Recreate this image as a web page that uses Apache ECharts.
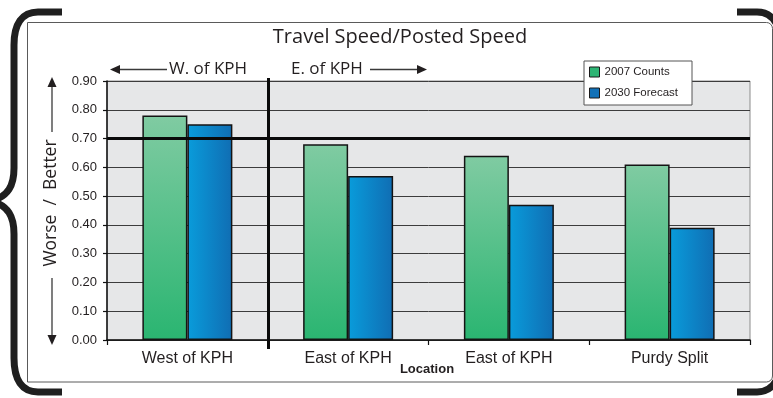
<!DOCTYPE html>
<html>
<head>
<meta charset="utf-8">
<script src="https://cdn.jsdelivr.net/npm/echarts@6/dist/echarts.min.js"></script>
<style>
  html, body { margin: 0; padding: 0; background: #ffffff; }
  #chart { width: 773px; height: 398px; }
</style>
</head>
<body>
<div id="chart"></div>
<script>
// Travel speed divided by posted speed, per location
const locations = ['West of KPH', 'East of KPH', 'East of KPH', 'Purdy Split'];
const counts2007 = [0.78, 0.68, 0.64, 0.61];
const forecast2030 = [0.75, 0.57, 0.47, 0.39];
const yTicks = [0, 0.1, 0.2, 0.3, 0.4, 0.5, 0.6, 0.7, 0.8, 0.9];
const thresholdValue = 0.70;
const seriesNames = ['2007 Counts', '2030 Forecast'];

const INK = '#231f20';
const HUMANIST = '"Open Sans", "Noto Sans", sans-serif';
const ARIAL = '"Liberation Sans", Arial, sans-serif';

const greenFill = {
  type: 'linear', x: 0, y: 0, x2: 0, y2: 1,
  colorStops: [{ offset: 0, color: '#80cba2' }, { offset: 1, color: '#2ab571' }]
};
const blueFill = {
  type: 'linear', x: 0, y: 0, x2: 1, y2: 0,
  colorStops: [{ offset: 0, color: '#099cdb' }, { offset: 1, color: '#106db3' }]
};

const chart = echarts.init(document.getElementById('chart'), null, { renderer: 'canvas' });

// Arrow helper: a thin shaft plus a filled triangular head
function arrow(x1, y1, x2, y2) {
  const dx = x2 - x1, dy = y2 - y1;
  const len = Math.sqrt(dx * dx + dy * dy);
  const ux = dx / len, uy = dy / len;
  const headL = 10, headW = 4.5;
  const bx = x2 - ux * headL, by = y2 - uy * headL;
  return [
    { type: 'line', shape: { x1: x1, y1: y1, x2: bx, y2: by },
      style: { stroke: '#3a3a3a', lineWidth: 1.3 }, z: 20 },
    { type: 'polygon',
      shape: { points: [[x2, y2], [bx - uy * headW, by + ux * headW], [bx + uy * headW, by - ux * headW]] },
      style: { fill: INK }, z: 20 }
  ];
}

// Thick bracket strokes built from straight and curved pieces
const BRACE = { fill: 'none', stroke: '#1f1f1f', lineWidth: 7, lineCap: 'butt' };
function seg(x1, y1, x2, y2) {
  return { type: 'line', shape: { x1, y1, x2, y2 }, style: BRACE, z: 2 };
}
function curve(x1, y1, cpx1, cpy1, cpx2, cpy2, x2, y2) {
  return { type: 'bezierCurve', shape: { x1, y1, cpx1, cpy1, cpx2, cpy2, x2, y2 }, style: BRACE, z: 2 };
}

const baseGraphics = [
  // outer frame
  { type: 'rect', shape: { x: 27.5, y: 22.5, width: 745, height: 359.5, r: [0, 6, 6, 0] },
    style: { fill: 'none', stroke: '#5a5a5a', lineWidth: 1 }, z: 1 },
  // left curly brace
  seg(62, 12, 38, 12),
  curve(38, 12, 22, 12, 14, 24, 14, 45),
  seg(14, 45, 14, 168),
  curve(14, 168, 14, 186, 8, 196, -8, 201),
  curve(-8, 201, 8, 206, 14, 216, 14, 234),
  seg(14, 234, 14, 358),
  curve(14, 358, 14, 380, 22, 392, 38, 392),
  seg(38, 392, 62, 392),
  // right bracket corners
  seg(737, 12, 757, 12),
  curve(757, 12, 766, 12, 772, 16, 776, 23),
  seg(737, 392, 757, 392),
  curve(757, 392, 766, 392, 772, 388, 776, 381),
  // title
  { type: 'text', x: 400, y: 37,
    style: { text: 'Travel Speed/Posted Speed', font: '20px ' + HUMANIST, fill: INK, align: 'center', verticalAlign: 'middle' }, z: 20 },
  // direction annotations
  { type: 'text', x: 169, y: 69,
    style: { text: 'W. of KPH', font: '17px ' + HUMANIST, fill: INK, align: 'left', verticalAlign: 'middle' }, z: 20 },
  { type: 'text', x: 291, y: 69,
    style: { text: 'E. of KPH', font: '17px ' + HUMANIST, fill: INK, align: 'left', verticalAlign: 'middle' }, z: 20 },
  ...arrow(167, 69.5, 110, 69.5),
  ...arrow(370, 69.5, 427, 69.5),
  // vertical axis title with arrows
  { type: 'text', x: 51, y: 203, rotation: Math.PI / 2,
    style: { text: 'Worse  /  Better', font: '17.5px ' + HUMANIST, fill: INK, align: 'center', verticalAlign: 'middle' }, z: 20 },
  ...arrow(52, 132, 52, 77),
  ...arrow(52, 278, 52, 345),
  // x axis title
  { type: 'text', x: 427, y: 369,
    style: { text: 'Location', font: 'bold 13px ' + ARIAL, fill: INK, align: 'center', verticalAlign: 'middle' }, z: 20 }
];

const option = {
  animation: false,
  backgroundColor: '#ffffff',
  grid: {
    left: 107, top: 81, right: 23, bottom: 58,
    show: true, backgroundColor: '#e6e7e8', borderColor: '#8c8c8c', borderWidth: 1
  },
  legend: {
    orient: 'vertical', left: 584, top: 61,
    padding: [5, 14, 6, 5],
    itemWidth: 10, itemHeight: 10, itemGap: 9,
    backgroundColor: '#ffffff', borderColor: '#555555', borderWidth: 1, borderRadius: 0,
    textStyle: { fontFamily: ARIAL, fontSize: 11.5, color: INK },
    data: [
      { name: seriesNames[0], icon: 'rect', itemStyle: { color: '#2db574', borderColor: '#1a1a1a', borderWidth: 1 } },
      { name: seriesNames[1], icon: 'rect', itemStyle: { color: '#1171b8', borderColor: '#1a1a1a', borderWidth: 1 } }
    ]
  },
  xAxis: {
    type: 'category',
    data: locations,
    axisLine: { lineStyle: { color: '#111111', width: 1.5 } },
    axisTick: { show: true, length: 5, lineStyle: { color: '#111111', width: 1.2 } },
    axisLabel: { fontFamily: ARIAL, fontSize: 16, color: INK, margin: 11 },
    splitLine: { show: false }
  },
  yAxis: {
    type: 'value',
    min: yTicks[0], max: yTicks[yTicks.length - 1], interval: 0.1,
    axisLine: { show: true, lineStyle: { color: '#111111', width: 1.5 } },
    axisTick: { show: true, length: 4, lineStyle: { color: '#111111', width: 1.2 } },
    axisLabel: { fontFamily: ARIAL, fontSize: 13, color: INK, margin: 10,
      formatter: v => v.toFixed(2) },
    splitLine: { show: true, lineStyle: { color: '#3c3c3c', width: 1 } }
  },
  series: [
    {
      name: seriesNames[0], type: 'bar', data: counts2007,
      barWidth: 45, barGap: '0%',
      itemStyle: { color: greenFill, borderColor: '#141414', borderWidth: 1.5 },
      markLine: {
        silent: true, symbol: 'none', label: { show: false },
        lineStyle: { color: '#0a0a0a', width: 3, type: 'solid' },
        data: [{ yAxis: thresholdValue }],
        z: 10
      },
      z: 3
    },
    {
      name: seriesNames[1], type: 'bar', data: forecast2030,
      barWidth: 45,
      itemStyle: { color: blueFill, borderColor: '#141414', borderWidth: 1.5 },
      z: 3
    }
  ],
  graphic: baseGraphics
};

chart.setOption(option);

// Divider between the west and east sections, at the first category boundary
const c0 = chart.convertToPixel({ xAxisIndex: 0 }, 0);
const c1 = chart.convertToPixel({ xAxisIndex: 0 }, 1);
const divX = Math.round((c0 + c1) / 2) + 0.5;
chart.setOption({
  graphic: baseGraphics.concat([
    { type: 'line', shape: { x1: divX, y1: 78, x2: divX, y2: 349 },
      style: { stroke: '#0a0a0a', lineWidth: 3 }, z: 15 }
  ])
});
</script>
</body>
</html>
